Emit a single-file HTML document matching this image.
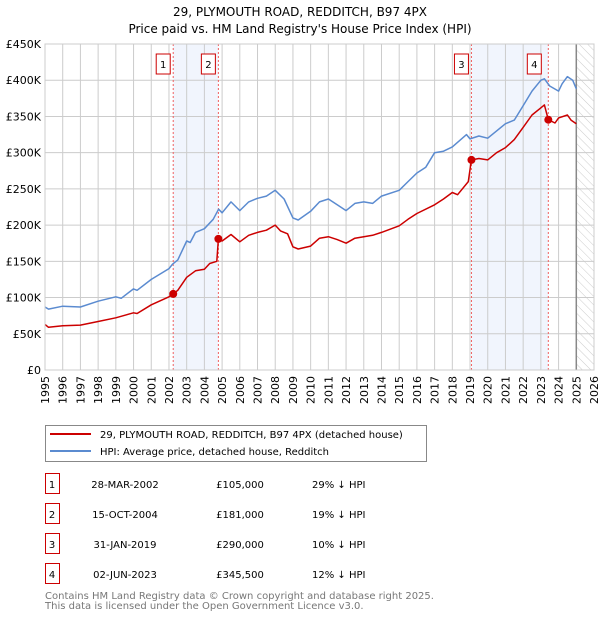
<!DOCTYPE html>
<html><head><meta charset="utf-8"><style>
body{margin:0;background:#fff;font-family:"Liberation Sans","DejaVu Sans",sans-serif}
svg text{font-family:"DejaVu Sans","Liberation Sans",sans-serif}
</style></head><body>
<svg id="c" width="600" height="620" viewBox="0 0 600 620">
<defs><pattern id="hatch" width="6" height="6" patternUnits="userSpaceOnUse" patternTransform="rotate(-45)"><line x1="0" y1="0" x2="0" y2="6" stroke="#ccc" stroke-width="1"/></pattern></defs>
<text x="300" y="16" text-anchor="middle" font-size="12">29, PLYMOUTH ROAD, REDDITCH, B97 4PX</text>
<text x="300" y="33" text-anchor="middle" font-size="12">Price paid vs. HM Land Registry's House Price Index (HPI)</text>
<g id="plot"></g>
<g>
<rect x="45.5" y="425.5" width="381" height="36" fill="#fff" stroke="#888"/>
<line x1="50" y1="434" x2="91" y2="434" stroke="#cc0000" stroke-width="2"/>
<text x="100" y="438" font-size="10">29, PLYMOUTH ROAD, REDDITCH, B97 4PX (detached house)</text>
<line x1="50" y1="451" x2="91" y2="451" stroke="#5b8bd0" stroke-width="2"/>
<text x="100" y="455" font-size="10">HPI: Average price, detached house, Redditch</text>
</g>
<g id="table" font-size="10"></g>
<text x="45" y="599" font-size="10" fill="#777">Contains HM Land Registry data © Crown copyright and database right 2025.</text>
<text x="45" y="609" font-size="10" fill="#777">This data is licensed under the Open Government Licence v3.0.</text>
</svg>
<script>
const hpiYears=[1995,1995.2,1996,1997,1998,1999,1999.3,2000,2000.2,2001,2002,2002.2,2002.5,2003,2003.2,2003.5,2004,2004.5,2004.8,2005,2005.5,2006,2006.5,2007,2007.5,2008,2008.5,2009,2009.3,2010,2010.5,2011,2011.5,2012,2012.5,2013,2013.5,2014,2015,2015.5,2016,2016.5,2017,2017.5,2018,2018.8,2019,2019.5,2020,2020.5,2021,2021.5,2022,2022.5,2023,2023.2,2023.5,2024,2024.2,2024.5,2024.8,2025];
const hpiValues=[87,84,88,87,95,101,99,112,110,125,140,146,152,178,176,190,195,208,222,217,232,220,232,237,240,248,236,210,207,219,232,236,228,220,230,232,230,240,248,260,272,280,300,302,308,325,319,323,320,330,340,345,365,385,400,402,392,385,395,405,400,388];
const priceYears=[1995,1995.2,1996,1997,1998,1999,2000,2000.2,2001,2002,2002.24,2002.5,2003,2003.5,2004,2004.3,2004.7,2004.79,2005,2005.5,2006,2006.5,2007,2007.5,2008,2008.3,2008.7,2009,2009.3,2010,2010.5,2011,2011.5,2012,2012.5,2013,2013.5,2014,2015,2015.5,2016,2017,2017.5,2018,2018.3,2018.9,2019.08,2019.5,2020,2020.5,2021,2021.5,2022,2022.5,2023,2023.2,2023.42,2023.8,2024,2024.5,2024.7,2025];
const priceValues=[63,59,61,62,67,72,79,78,90,101,105,110,128,137,139,147,150,181,178,187,177,186,190,193,200,192,188,170,167,171,182,184,180,175,182,184,186,190,199,208,216,228,236,245,242,260,290,292,290,300,307,318,335,352,362,366,345.5,341,348,352,345,340];
const saleLabels=["1","2","3","4"];
const saleYears=[2002.24,2004.79,2019.08,2023.42];
const saleValues=[105,181,290,345.5];
const saleDates=["28-MAR-2002","15-OCT-2004","31-JAN-2019","02-JUN-2023"];
const salePrices=["£105,000","£181,000","£290,000","£345,500"];
const saleDiffs=["29% ↓ HPI","19% ↓ HPI","10% ↓ HPI","12% ↓ HPI"];
const yTicks=[0,50,100,150,200,250,300,350,400,450];
const yTickLabels=["£0","£50K","£100K","£150K","£200K","£250K","£300K","£350K","£400K","£450K"];

const X0=45,X1=594,Y0=370,Y1=44;
const xs=y=>X0+(y-1995)/31*(X1-X0);
const ys=v=>Y0-v/450*(Y0-Y1);
const NS="http://www.w3.org/2000/svg";
const plot=document.getElementById('plot');
function mk(tag,attrs,parent){const e=document.createElementNS(NS,tag);for(const k in attrs)e.setAttribute(k,attrs[k]);(parent||plot).appendChild(e);return e;}
for(const [a,b] of [[0,1],[2,3]]){const r=mk('rect',{x:xs(saleYears[a]),y:Y1,width:xs(saleYears[b])-xs(saleYears[a]),height:Y0-Y1,fill:'#eef3fc',opacity:0.8});

}
const h=mk('rect',{x:xs(2025),y:Y1,width:X1-xs(2025),height:Y0-Y1,fill:'url(#hatch)'});


for(let yr=1995;yr<=2026;yr++){const l=mk('line',{x1:xs(yr),x2:xs(yr),y1:Y1,y2:Y0,stroke:'#ccc','stroke-width':1});


const t=mk('text',{x:0,y:0,'font-size':11,'text-anchor':'end',transform:`translate(${xs(yr)+4},${Y0+6}) rotate(-90)`});
t.textContent=yr;

}
yTicks.forEach((v,i)=>{const l=mk('line',{x1:X0,x2:X1,y1:ys(v),y2:ys(v),stroke:'#ccc','stroke-width':1});


const t=mk('text',{x:41,y:ys(v)+4,'font-size':11,'text-anchor':'end'});
t.textContent=yTickLabels[i];

});
const vl=mk('line',{x1:xs(2025),x2:xs(2025),y1:Y1,y2:Y0,stroke:'#888','stroke-width':1.5});


saleYears.forEach((y,i)=>{const l=mk('line',{x1:xs(y),x2:xs(y),y1:Y1,y2:Y0,stroke:'#f06060','stroke-width':1,'stroke-dasharray':'2,2'});

});
function path(xsA,vs,color,name){const d=xsA.map((y,i)=>(i?'L':'M')+xs(y).toFixed(1)+','+ys(vs[i]).toFixed(1)).join('');
const p=mk('path',{d,fill:'none',stroke:color,'stroke-width':1.5,'stroke-linejoin':'round'});

}
path(hpiYears,hpiValues,'#5b8bd0','hpi-line');
path(priceYears,priceValues,'#cc0000','price-paid-line');
saleYears.forEach((y,i)=>{const c=mk('circle',{cx:xs(y),cy:ys(saleValues[i]),r:4,fill:'#cc0000'});


const r=mk('rect',{x:xs(y)-17+(i==3?-4:0),y:54,width:14,height:20,fill:'#fff',stroke:'#cc0000'});


const t=mk('text',{x:xs(y)-10+(i==3?-4:0),y:68,'font-size':10,'text-anchor':'middle'});
t.textContent=saleLabels[i];

});
mk('rect',{x:X0,y:Y1,width:X1-X0,height:Y0-Y1,fill:'none',stroke:'#ccc'});
const tb=document.getElementById('table');
saleLabels.forEach((s,i)=>{const y=487+i*30;
const r=mk('rect',{x:45.5,y:y-13.5,width:14,height:20,fill:'#fff',stroke:'#cc0000'},tb);


const vals=[[s,52,'middle'],[saleDates[i],125,'middle'],[salePrices[i],240,'middle'],[saleDiffs[i],312,'start']];
vals.forEach(([txt,x,a])=>{const t=mk('text',{x,y:y+1,'text-anchor':a},tb);
t.textContent=txt;

});});
</script>
</body></html>
